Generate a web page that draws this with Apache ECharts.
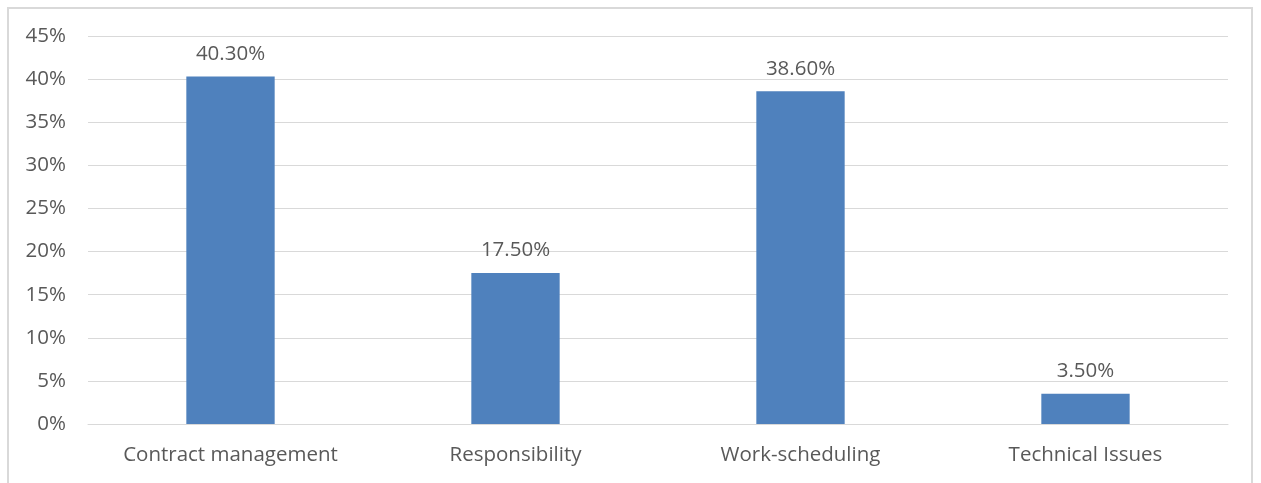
<!DOCTYPE html>
<html>
<head>
<meta charset="utf-8">
<script src="https://cdn.jsdelivr.net/npm/echarts@6/dist/echarts.min.js"></script>
<style>
  html, body { margin: 0; padding: 0; background: #fff; }
  #frame { position: absolute; left: 7px; top: 7px; width: 1246px; height: 500px; border: 2px solid #d9d9d9; box-sizing: border-box; }
  #chart { position: absolute; left: 0; top: 0; width: 1261px; height: 483px; }
</style>
</head>
<body>
<div id="frame"></div>
<div id="chart"></div>
<script>
const categories = ['Contract management', 'Responsibility', 'Work-scheduling', 'Technical Issues'];
const shares = [40.3, 17.5, 38.6, 3.5];
const yTicks = [0, 5, 10, 15, 20, 25, 30, 35, 40, 45];

const textColor = '#595959';
const fontFamily = '"Open Sans", "Noto Sans", sans-serif';
const fontSize = 20.5;

const chart = echarts.init(document.getElementById('chart'), null, { renderer: 'canvas' });
chart.setOption({
  animation: false,
  grid: { left: 88, right: 33, top: 36, bottom: 59 },
  xAxis: {
    type: 'category',
    data: categories,
    axisLine: { show: true, lineStyle: { color: '#d9d9d9', width: 1 } },
    axisTick: { show: false },
    axisLabel: { color: textColor, fontSize, fontFamily, margin: 21 }
  },
  yAxis: {
    type: 'value',
    min: yTicks[0],
    max: yTicks[yTicks.length - 1],
    interval: 5,
    axisLine: { show: false },
    axisTick: { show: false },
    splitLine: { lineStyle: { color: '#d9d9d9', width: 1 } },
    axisLabel: { color: textColor, fontSize, fontFamily, margin: 22, formatter: v => v + '%' }
  },
  series: [{
    type: 'bar',
    data: shares,
    barWidth: '31%',
    itemStyle: { color: '#4f81bd' },
    label: {
      show: true,
      position: 'top',
      distance: 12,
      color: textColor,
      fontSize,
      fontFamily,
      formatter: p => p.value.toFixed(2) + '%'
    }
  }]
});
</script>
</body>
</html>
